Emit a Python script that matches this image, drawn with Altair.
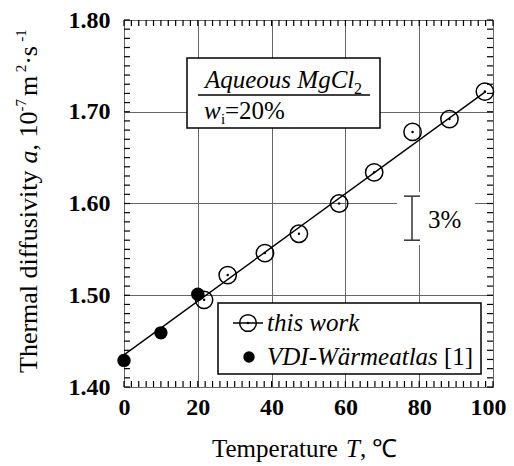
import altair as alt
import pandas as pd

# ---------------- data ----------------
T_work = [21.7, 28.1, 38.2, 47.4, 58.3, 67.8, 78.2, 88.2, 97.8]
a_work = [1.495, 1.522, 1.546, 1.567, 1.600, 1.634, 1.678, 1.692, 1.722]
T_vdi = [0, 10, 20]
a_vdi = [1.429, 1.459, 1.501]
T_fit = [0, 98]
a_fit = [1.435, 1.722]
x_labels = [0, 20, 40, 60, 80, 100]
y_labels = [1.40, 1.50, 1.60, 1.70, 1.80]
x_minor = [i * 2 for i in range(51)]
y_minor = [round(1.40 + i * 0.01, 2) for i in range(41)]
bar_3pct = [1.560, 1.608]

W, H = 369, 367
SERIF = "Liberation Serif, Times New Roman, serif"
FS = 25

# Times-like advance widths (per em) used to lay out mixed-style titles
REG = {"T": .611, "h": .5, "e": .444, "r": .333, "m": .778, "a": .444, "l": .278, " ": .25,
       "d": .5, "i": .278, "f": .333, "u": .5, "s": .389, "v": .5, "t": .278, "y": .5,
       ",": .25, "1": .5, "0": .5, "7": .5, "2": .5, "-": .333, "·": .25, "p": .5}
ITA = {"a": .5, "T": .556}


def width(s, size, table=REG):
    return sum(table.get(c, .5) for c in s) * size


xs = alt.Scale(domain=[0, 100], nice=False, zero=False)
ys = alt.Scale(domain=[1.4, 1.8], nice=False, zero=False)

work = pd.DataFrame({"T": T_work, "a": a_work})
vdi = pd.DataFrame({"T": T_vdi, "a": a_vdi})
fit = pd.DataFrame({"T": T_fit, "a": a_fit})
one = pd.DataFrame({"d": [0]})

xaxis = alt.Axis(values=x_labels, title=None, ticks=False, domain=False, grid=True,
                 gridColor="#666666", gridWidth=1, labelFont=SERIF, labelFontWeight="bold",
                 labelFontSize=24, labelColor="black", labelPadding=8, format="d",
                 labelFlush=False, labelOverlap=False,
                 labelOffset={"condition": {"test": "datum.value == 100", "value": -5}, "value": 0})
yaxis = alt.Axis(values=y_labels, title=None, ticks=False, domain=False, grid=True,
                 gridColor="#666666", gridWidth=1, labelFont=SERIF, labelFontWeight="bold",
                 labelFontSize=24, labelColor="black", labelPadding=14, format=".2f",
                 labelFlush=False, labelOverlap=False)

line = alt.Chart(fit).mark_line(color="black", strokeWidth=1.4).encode(
    x=alt.X("T:Q", scale=xs, axis=xaxis),
    y=alt.Y("a:Q", scale=ys, axis=yaxis),
)

open_c = alt.Chart(work).mark_point(shape="circle", filled=False, color="black",
                                    strokeWidth=1.5, size=300, opacity=1).encode(
    x=alt.X("T:Q", scale=xs), y=alt.Y("a:Q", scale=ys))
dots = alt.Chart(work).mark_point(shape="circle", filled=True, color="black",
                                  size=6, opacity=1).encode(
    x=alt.X("T:Q", scale=xs), y=alt.Y("a:Q", scale=ys))
filled = alt.Chart(vdi).mark_point(shape="circle", filled=True, color="black",
                                   size=180, opacity=1).encode(
    x=alt.X("T:Q", scale=xs), y=alt.Y("a:Q", scale=ys))

# inward ticks on all four sides
TL = 6
xt = pd.DataFrame({"T": x_minor})
yt = pd.DataFrame({"a": y_minor})
tick_b = alt.Chart(xt).mark_rule(color="black", strokeWidth=1.2).encode(
    x=alt.X("T:Q", scale=xs), y=alt.value(H), y2=alt.value(H - TL))
tick_t = alt.Chart(xt).mark_rule(color="black", strokeWidth=1.2).encode(
    x=alt.X("T:Q", scale=xs), y=alt.value(0), y2=alt.value(TL))
tick_l = alt.Chart(yt).mark_rule(color="black", strokeWidth=1.2).encode(
    y=alt.Y("a:Q", scale=ys), x=alt.value(0), x2=alt.value(TL))
tick_r = alt.Chart(yt).mark_rule(color="black", strokeWidth=1.2).encode(
    y=alt.Y("a:Q", scale=ys), x=alt.value(W), x2=alt.value(W - TL))


def txt(text, x, y, size=FS, style="normal", angle=0, baseline="alphabetic", align="left"):
    kw = dict(text=text, font=SERIF, fontSize=size, fontStyle=style, color="black",
              align=align, baseline=baseline)
    if angle:
        kw["angle"] = angle
    return alt.Chart(one).mark_text(**kw).encode(x=alt.value(x), y=alt.value(y))


def box(x1, y1, x2, y2, stroke=True):
    kw = dict(fill="white")
    if stroke:
        kw.update(stroke="black", strokeWidth=1.5)
    return alt.Chart(one).mark_rect(**kw).encode(
        x=alt.value(x1), x2=alt.value(x2), y=alt.value(y1), y2=alt.value(y2))


def hrule(x1, x2, y, w=1.5, color="black"):
    return alt.Chart(one).mark_rule(color=color, strokeWidth=w).encode(
        x=alt.value(x1), x2=alt.value(x2), y=alt.value(y))


# annotation box (top)
top_box = box(63, 38, 256, 108)
t_aq = txt("Aqueous MgCl", 81, 68, style="italic")
t_aq2 = txt("2", 230, 74, size=16)
u_line = hrule(74, 246, 75, w=1.3)
t_w = txt("w", 80, 99, style="italic")
t_wi = txt("i", 97, 104, size=15)
t_w2 = txt("=20%", 101, 99)

# 3% indicator
pct_bg = box(273, 172, 351, 225, stroke=False)
bar_df = pd.DataFrame({"a": [bar_3pct[0]], "a2": [bar_3pct[1]]})
bar = alt.Chart(bar_df).mark_rule(color="#333333", strokeWidth=1.5).encode(
    x=alt.value(288), y=alt.Y("a:Q", scale=ys), y2="a2:Q")
caps = alt.Chart(pd.DataFrame({"a": bar_3pct})).mark_rule(color="#333333", strokeWidth=1.5).encode(
    y=alt.Y("a:Q", scale=ys), x=alt.value(280), x2=alt.value(296))
t_pct = txt("3%", 304, 200, baseline="middle")

# legend
leg_box = box(94, 283, 357, 354)
leg_line = hrule(109, 139, 303, w=1.5)
leg_c = alt.Chart(one).mark_point(shape="circle", filled=False, color="black", strokeWidth=1.5,
                                  size=280, opacity=1).encode(x=alt.value(124), y=alt.value(303))
leg_d = alt.Chart(one).mark_point(shape="circle", filled=True, color="black", size=6,
                                  opacity=1).encode(x=alt.value(124), y=alt.value(303))
leg_f = alt.Chart(one).mark_point(shape="circle", filled=True, color="black", size=130,
                                  opacity=1).encode(x=alt.value(125), y=alt.value(337))
t_l1 = txt("this work", 143, 311, style="italic")
t_l2 = txt("VDI-Wärmeatlas", 143, 345, style="italic")
t_l3 = txt("[1]", 320, 345)

# x title (mixed styles)
XTS = 25
XB = 437
xx0 = 88
xt1 = txt("Temperature ", xx0, XB, size=XTS)
xx1 = xx0 + width("Temperature ", XTS)
xt2 = txt("T", xx1, XB, size=XTS, style="italic")
xx2 = xx1 + width("T", XTS, ITA)
xt3 = txt(",  ℃", xx2, XB, size=XTS)

# y title (rotated, mixed styles, superscripts); last item = extra spacing after segment
YTS = 26
SUP = 15
YX = -87
SX = YX - 11
segs = [("Thermal diffusivity ", YTS, "normal", YX, REG, 0),
        ("a", YTS, "italic", YX, ITA, 0),
        (", 10", YTS, "normal", YX, REG, 0),
        ("-7", SUP, "normal", SX, REG, 3),
        (" m", YTS, "normal", YX, REG, -3),
        ("2", SUP, "normal", SX, REG, 0),
        (" ·s", YTS, "normal", YX, REG, 0),
        ("-1", SUP, "normal", SX, REG, 0)]
yt_parts = []
ypos = 353
for s, sz, st, xx, tb, extra in segs:
    yt_parts.append(txt(s, xx, ypos, size=sz, style=st, angle=270))
    ypos -= width(s, sz, tb) + extra

chart = alt.layer(
    line, tick_b, tick_t, tick_l, tick_r,
    top_box, t_aq, t_aq2, u_line, t_w, t_wi, t_w2,
    pct_bg, bar, caps, t_pct,
    open_c, dots, filled,
    leg_box, leg_line, leg_c, leg_d, leg_f, t_l1, t_l2, t_l3,
    xt1, xt2, xt3, *yt_parts,
).properties(
    width=W, height=H,
    autosize=alt.AutoSizeParams(type="none"),
    padding={"left": 116, "top": 12, "right": 13, "bottom": 79},
).configure_view(stroke="black", strokeWidth=2).configure(background="white", font=SERIF)

chart.save("out.html", embed_options={"renderer": "svg", "actions": False})
